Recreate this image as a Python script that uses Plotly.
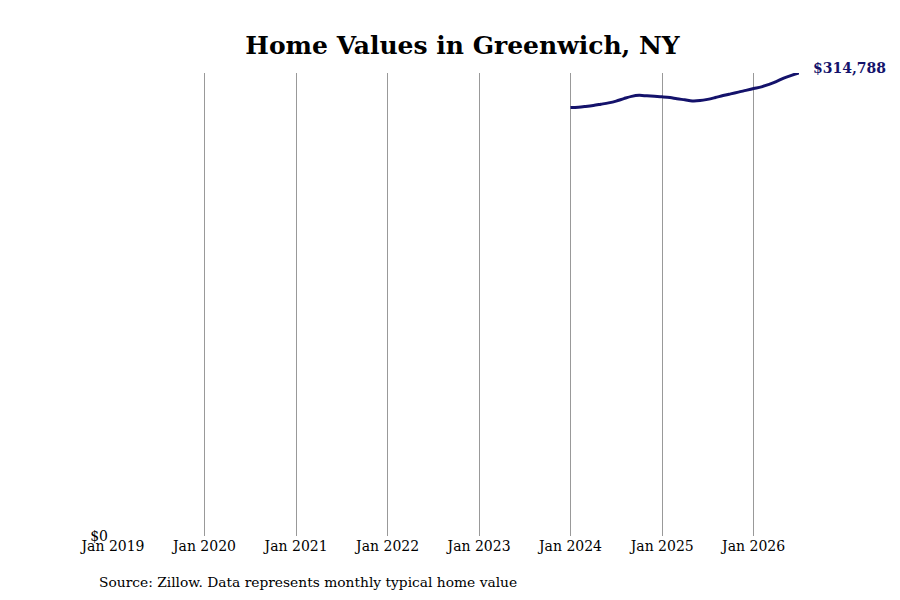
import plotly.graph_objects as go
import pandas as pd

# Typical home value, monthly (Jan 2024 - Jul 2026)
dates = pd.date_range("2024-01-01", "2026-07-01", freq="MS")
values = [
    291257, 291530, 292075, 292757, 293576, 294463, 295690, 297396,
    298897, 299579, 299238, 298897, 298556, 298078, 297260, 296578,
    295827, 296032, 296850, 298078, 299442, 300602, 301761, 302989,
    304217, 305376, 306945, 308991, 311310, 313220, 314788,
]
year_ticks = pd.date_range("2019-01-01", "2026-01-01", freq="YS")
year_labels = [d.strftime("Jan %Y") for d in year_ticks]

font_family = "DejaVu Serif"
line_color = "#14126b"

fig = go.Figure(go.Scatter(
    x=dates, y=values,
    mode="lines",
    line=dict(color=line_color, width=3, shape="spline"),
    hoverinfo="x+y",
))

last_label = "${:,}".format(values[-1])
fig.add_annotation(
    x=dates[-1], y=values[-1], text="<b>" + last_label + "</b>",
    showarrow=False, xanchor="left", xshift=12, yshift=5,
    font=dict(family=font_family, size=14, color=line_color),
)
fig.add_annotation(
    x=0.0, y=-0.099, xref="paper", yref="paper",
    text="Source: Zillow. Data represents monthly typical home value",
    showarrow=False, xanchor="left", yanchor="middle", xshift=-16,
    font=dict(family=font_family, size=13.8, color="black"),
)

fig.update_layout(
    width=900, height=600,
    title=dict(text="<b>Home Values in Greenwich, NY</b>", x=0.505, xanchor="center",
               y=0.938, yanchor="middle",
               font=dict(family=font_family, size=25, color="black")),
    font=dict(family=font_family, size=14, color="black"),
    plot_bgcolor="white", paper_bgcolor="white",
    margin=dict(l=105, r=109, t=65, b=72),
    showlegend=False,
    xaxis=dict(
        range=[year_ticks[0], dates[-1]],
        tickvals=year_ticks, ticktext=year_labels,
        showgrid=True, gridcolor="#999999", gridwidth=1,
        zeroline=False, showline=False, ticks="",
    ),
    yaxis=dict(
        range=[0, values[-1]],
        tickvals=[0], ticktext=["$0"],
        showgrid=False, zeroline=False, showline=False, ticks="",
        ticklabelstandoff=4,
    ),
)

fig.write_html("out.html")
